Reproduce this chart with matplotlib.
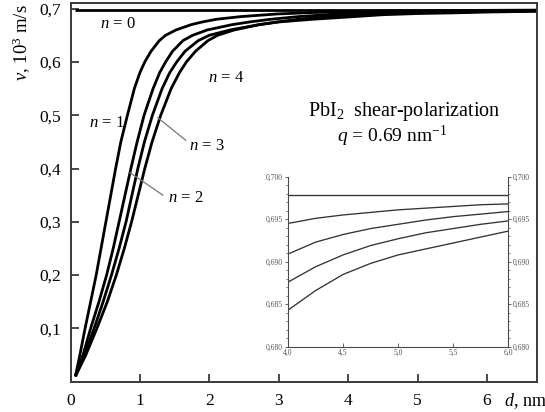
import matplotlib
matplotlib.use("Agg")
import matplotlib.pyplot as plt
from matplotlib.ticker import FixedLocator, MultipleLocator

# ---------------- data ----------------
d_n0 = [0.07, 6.72]
v_n0 = [0.6978, 0.6978]

d_n1 = [0.07, 0.135, 0.21, 0.29, 0.37, 0.44, 0.51, 0.58, 0.65, 0.725, 0.82, 0.92, 1.00, 1.07, 1.16,
        1.28, 1.37, 1.52, 1.74, 1.90, 2.10, 2.45, 2.98, 3.45, 4.0, 4.5, 5.0, 5.5, 6.0, 6.72]
v_n1 = [0.01, 0.05, 0.10, 0.15, 0.20, 0.25, 0.30, 0.35, 0.40, 0.45, 0.50, 0.55, 0.58, 0.60, 0.62,
        0.64, 0.65, 0.66, 0.67, 0.675, 0.68, 0.685, 0.69, 0.6925, 0.6944, 0.6955, 0.6960, 0.6965, 0.6968, 0.6972]

d_n2 = [0.07, 0.18, 0.29, 0.41, 0.52, 0.615, 0.70, 0.785, 0.87, 0.96, 1.06, 1.19, 1.285, 1.37, 1.47,
        1.62, 1.76, 1.97, 2.33, 2.58, 2.88, 3.28, 3.86, 4.0, 4.5, 5.0, 5.5, 6.0, 6.72]
v_n2 = [0.01, 0.05, 0.10, 0.15, 0.20, 0.25, 0.30, 0.35, 0.40, 0.45, 0.50, 0.55, 0.58, 0.60, 0.62,
        0.64, 0.65, 0.66, 0.67, 0.675, 0.68, 0.685, 0.69, 0.6909, 0.6932, 0.6942, 0.6953, 0.6958, 0.6964]

d_n3 = [0.07, 0.20, 0.34, 0.47, 0.59, 0.70, 0.80, 0.885, 0.97, 1.065, 1.18, 1.32, 1.43, 1.53, 1.65,
        1.84, 2.00, 2.30, 2.72, 2.98, 3.28, 3.70, 4.0, 4.5, 5.0, 5.5, 6.0, 6.72]
v_n3 = [0.01, 0.05, 0.10, 0.15, 0.20, 0.25, 0.30, 0.35, 0.40, 0.45, 0.50, 0.55, 0.58, 0.60, 0.62,
        0.64, 0.65, 0.66, 0.67, 0.675, 0.68, 0.685, 0.6876, 0.6908, 0.6927, 0.6936, 0.6947, 0.6956]

d_n4 = [0.07, 0.22, 0.38, 0.53, 0.66, 0.775, 0.88, 0.975, 1.07, 1.175, 1.30, 1.45, 1.57, 1.67, 1.80,
        1.98, 2.12, 2.36, 2.72, 3.00, 3.48, 4.0, 4.5, 5.0, 5.5, 6.0, 6.72]
v_n4 = [0.01, 0.05, 0.10, 0.15, 0.20, 0.25, 0.30, 0.35, 0.40, 0.45, 0.50, 0.55, 0.58, 0.60, 0.62,
        0.64, 0.65, 0.66, 0.67, 0.675, 0.68, 0.6843, 0.6886, 0.6908, 0.6920, 0.6936, 0.6950]

# inset (zoomed region 4..6 nm)
d_in = [4.0, 4.25, 4.5, 4.75, 5.0, 5.25, 5.5, 5.75, 6.0]
v_in_n0 = [0.6978, 0.6978, 0.6978, 0.6978, 0.6978, 0.6978, 0.6978, 0.6978, 0.6978]
v_in_n1 = [0.6945, 0.6951, 0.6955, 0.6958, 0.6961, 0.6963, 0.6965, 0.6967, 0.6968]
v_in_n2 = [0.6909, 0.6923, 0.6932, 0.6939, 0.6944, 0.6949, 0.6953, 0.6956, 0.6959]
v_in_n3 = [0.6876, 0.6894, 0.6908, 0.6919, 0.6927, 0.6934, 0.6939, 0.6944, 0.6948]
v_in_n4 = [0.6843, 0.6866, 0.6885, 0.6898, 0.6908, 0.6915, 0.6922, 0.6929, 0.6936]

x_ticks = [0, 1, 2, 3, 4, 5, 6]
x_ticklabels = ["0", "1", "2", "3", "4", "5", "6"]
y_ticks = [0.1, 0.2, 0.3, 0.4, 0.5, 0.6, 0.7]
y_ticklabels = ["0,1", "0,2", "0,3", "0,4", "0,5", "0,6", "0,7"]

in_x_ticks = [4.0, 4.5, 5.0, 5.5, 6.0]
in_x_ticklabels = ["4,0", "4,5", "5,0", "5,5", "6,0"]
in_y_ticks = [0.680, 0.685, 0.690, 0.695, 0.700]
in_y_ticklabels = ["0,680", "0,685", "0,690", "0,695", "0,700"]

# ---------------- style ----------------
plt.rcParams["font.family"] = ["Liberation Serif", "DejaVu Serif"]
plt.rcParams["mathtext.fontset"] = "custom"
plt.rcParams["mathtext.rm"] = "Liberation Serif"
plt.rcParams["mathtext.it"] = "Liberation Serif:italic"
plt.rcParams["mathtext.bf"] = "Liberation Serif:bold"

W, H = 545, 412
fig = plt.figure(figsize=(W / 100, H / 100), dpi=100)

def px2fig(x0, y_top, x1, y_bot):
    return [x0 / W, 1 - y_bot / H, (x1 - x0) / W, (y_bot - y_top) / H]

ax = fig.add_axes(px2fig(70.5, 3.3, 537, 381.7))
ax.set_xlim(0, 6.72)
ax.set_ylim(0, 0.710)

lw = 2.0
for d, v in [(d_n0, v_n0), (d_n1, v_n1), (d_n2, v_n2), (d_n3, v_n3), (d_n4, v_n4)]:
    ax.plot(d, v, color="black", lw=lw, solid_capstyle="butt", solid_joinstyle="round")

spine_c = "#3a3a3a"
for s in ax.spines.values():
    s.set_color(spine_c)
    s.set_linewidth(1.4)
ax.xaxis.set_major_locator(FixedLocator(x_ticks))
ax.set_xticklabels(x_ticklabels)
ax.yaxis.set_major_locator(FixedLocator(y_ticks))
ax.set_yticklabels(y_ticklabels)
ax.tick_params(direction="in", length=6, width=1.3, color=spine_c,
               labelsize=12.5, pad=7)
ax.tick_params(axis="x", pad=8)

# mode labels
tk = dict(fontsize=12, color="black")
ax.text(0.68, 0.671, "$n$ = 0", ha="center", va="center", **tk)
ax.text(0.775, 0.485, "$n$ = 1", ha="right", va="center", **tk)
ax.text(1.40, 0.345, "$n$ = 2", ha="left", va="center", **tk)
ax.text(1.71, 0.442, "$n$ = 3", ha="left", va="center", **tk)
ax.text(2.24, 0.570, "$n$ = 4", ha="center", va="center", **tk)
ax.plot([0.86, 1.33], [0.392, 0.350], color="#777777", lw=0.9)
ax.plot([1.26, 1.66], [0.495, 0.453], color="#777777", lw=0.9)

ax.text(4.81, 0.498, "PbI$_2$  shear-polarization", ha="center", va="baseline", fontsize=14.5)
ax.text(4.63, 0.449, "$q$ = 0.69 nm$^{-1}$", ha="center", va="baseline", fontsize=14)

fig.text(22 / W, 1 - 43 / H, "$v$, 10$^3$ m/s", rotation=90, ha="center", va="center", fontsize=13.5)
fig.text(525 / W, 1 - 401 / H, "$d$, nm", ha="center", va="center", fontsize=13)

# ---------------- inset ----------------
ai = fig.add_axes(px2fig(288, 176.7, 508.3, 346.7))
ai.set_xlim(4.0, 6.0)
ai.set_ylim(0.680, 0.700)
in_c = "#4a4a4a"
for d_i, v_i in [(d_in, v_in_n0), (d_in, v_in_n1), (d_in, v_in_n2), (d_in, v_in_n3), (d_in, v_in_n4)]:
    ai.plot(d_i, v_i, color="#333333", lw=0.95)
ai.spines["top"].set_visible(False)
for k in ["left", "right", "bottom"]:
    ai.spines[k].set_color(in_c)
    ai.spines[k].set_linewidth(0.8)
ai.xaxis.set_major_locator(FixedLocator(in_x_ticks))
ai.set_xticklabels(in_x_ticklabels)
ai.yaxis.set_major_locator(FixedLocator(in_y_ticks))
ai.set_yticklabels(in_y_ticklabels)
ai.yaxis.set_minor_locator(MultipleLocator(0.001))
ai.tick_params(axis="x", direction="in", length=3, width=0.6, color=in_c,
               labelsize=5.5, labelcolor="#555555", pad=1.5)
ai.tick_params(axis="y", which="major", direction="out", length=2.5, width=0.6, color=in_c,
               labelsize=5.5, labelcolor="#555555", pad=1, left=True, right=True,
               labelleft=True, labelright=True)
ai.tick_params(axis="y", which="minor", direction="out", length=1.3, width=0.5, color=in_c,
               left=True, right=True)

fig.savefig("out.png", dpi=100)
